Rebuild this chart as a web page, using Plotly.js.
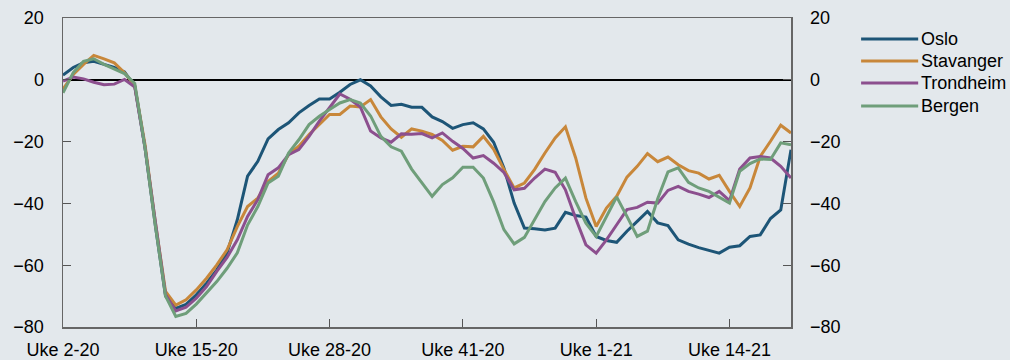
<!DOCTYPE html>
<html>
<head>
<meta charset="utf-8">
<script src="https://cdn.plot.ly/plotly-3.0.1.min.js"></script>
<style>
  html, body { margin: 0; padding: 0; background: #e3e8ec; }
  #chart { width: 1010px; height: 360px; }
</style>
</head>
<body>
<div id="chart"></div>
<script>
// Week categories: Uke 2-20 ... Uke 53-20, Uke 1-21 ... Uke 20-21
const weeks = [];
for (let w = 2; w <= 53; w++) weeks.push('Uke ' + w + '-20');
for (let w = 1; w <= 20; w++) weeks.push('Uke ' + w + '-21');

const tickLabels = ['Uke 2-20', 'Uke 15-20', 'Uke 28-20', 'Uke 41-20', 'Uke 1-21', 'Uke 14-21'];
const yTicks = [20, 0, -20, -40, -60, -80];

const oslo = [1.5, 4, 5.5, 6, 5, 4, 2.5, -2, -22, -47,
  -70, -74, -72.7, -69.6, -65.8, -61.5, -56, -45.3, -31.2, -26.4,
  -19.1, -16.1, -13.9, -10.7, -8.3, -6.2, -6.2, -4, -1.5, 0,
  -2, -5.5, -8.3, -7.9, -8.9, -8.9, -12, -13.5, -15.7, -14.5,
  -13.9, -15.9, -20.2, -28.5, -39.9, -48, -48.2, -48.6, -48, -42.9,
  -43.9, -44.4, -50.7, -52, -52.6, -49, -45.8, -42.6, -46.3, -47.2,
  -51.8, -53.2, -54.3, -55.2, -56.1, -54.2, -53.7, -50.7, -50.2, -44.9,
  -42.1, -22.6];

const stavanger = [-3, 1.7, 5, 7.9, 6.8, 5.5, 2.3, -2, -21, -46,
  -68.5, -72.9, -71.2, -68, -64.2, -59.9, -55, -47.5, -41, -38.3,
  -32.9, -30.2, -24.2, -21.5, -17.7, -14.5, -11.2, -11.2, -8.5, -8.8,
  -6.4, -12, -15.9, -18.6, -15.9, -16.6, -17.7, -19.6, -22.8, -21.5,
  -21.7, -18.3, -22.5, -29, -35, -33.4, -29, -23.7, -18.8, -15.2,
  -25.3, -38.3, -47.5, -41.5, -37.7, -31.5, -28, -23.9, -26.5, -25,
  -27.5, -29.4, -30.2, -32.1, -30.9, -36.1, -41, -35, -24.8, -19.9,
  -14.7, -17.2];

const trondheim = [-0.4, 0.9, 0.3, -0.8, -1.6, -1.4, 0.1, -2.3, -22, -46,
  -69.5, -74.8, -73.6, -70.7, -66.9, -62, -57.5, -51.8, -44.2, -38.8,
  -30.7, -28.5, -24.2, -22.6, -18.3, -13.4, -9, -4.6, -6.3, -8.8,
  -16.6, -18.8, -20.2, -17.5, -17.6, -17.4, -18.8, -17.2, -19.9, -22.2,
  -25.3, -24.5, -27, -30, -35.6, -35.1, -31.8, -28.9, -29.9, -35.6,
  -44.9, -53.4, -56.1, -51.8, -46.9, -42, -41.3, -39.6, -39.9, -35.8,
  -34.5, -36.1, -37, -38.1, -36.1, -39.1, -28.9, -25.3, -24.8, -25.3,
  -28, -31.8];

const bergen = [-4.2, 2.3, 6, 6.8, 5, 3.6, 2, -1.2, -22, -47,
  -70, -76.6, -75.6, -72.6, -69.1, -65.3, -61, -56, -47, -41,
  -33.4, -31.2, -23.7, -19.4, -14.5, -11.8, -9.6, -7.5, -6.4, -7.5,
  -11.7, -18.3, -21.7, -23.1, -28.9, -33.2, -37.7, -33.9, -31.7, -28.3,
  -28.3, -31.8, -39.5, -48.5, -53.1, -51, -45.3, -39.4, -35, -31.8,
  -39.4, -46.4, -50.7, -44.2, -37.9, -44.2, -50.7, -49, -38.5, -29.8,
  -28.5, -33.2, -35, -36.1, -37.9, -39.9, -29.6, -27.1, -25.6, -25.8,
  -20.4, -21];

const seriesNames = ['Oslo', 'Stavanger', 'Trondheim', 'Bergen'];
const seriesData = [oslo, stavanger, trondheim, bergen];
const colors = ['#1d5577', '#c8873a', '#8c4f8e', '#6f9e7a'];

const traces = seriesData.map((ys, k) => ({
  type: 'scatter', mode: 'lines', name: seriesNames[k],
  x: weeks, y: ys,
  line: { color: colors[k], width: 3 },
  hoverinfo: 'x+y+name'
}));
// invisible trace to activate right-hand axis
traces.push({
  type: 'scatter', mode: 'lines', x: weeks, y: oslo, yaxis: 'y2',
  line: { color: 'rgba(0,0,0,0)', width: 0 }, showlegend: false, hoverinfo: 'skip'
});

const font = { family: 'Liberation Sans, Arial, sans-serif', size: 18, color: '#000' };

// Manual legend (paper coordinates; plot area is 727 x 309 px starting at (63, 18))
const PW = 727, PH = 309, PL = 63, PT = 18;
const px = v => (v - PL) / PW;
const py = v => (PT + PH - v) / PH;
const legendRows = [39, 61, 83, 106];
const shapes = seriesNames.map((n, k) => ({
  type: 'line', xref: 'paper', yref: 'paper',
  x0: px(860), x1: px(917), y0: py(legendRows[k]), y1: py(legendRows[k]),
  line: { color: colors[k], width: 3 }
}));
const annotations = seriesNames.map((n, k) => ({
  xref: 'paper', yref: 'paper', x: px(918), y: py(legendRows[k]),
  xanchor: 'left', yanchor: 'middle', text: n, showarrow: false,
  font: font
}));

const fmt = v => v < 0 ? '\u2212' + Math.abs(v) : String(v);

const layout = {
  width: 1010, height: 360,
  paper_bgcolor: '#e3e8ec', plot_bgcolor: '#e3e8ec',
  margin: { l: 63, r: 219, t: 18, b: 33 },
  font: font,
  showlegend: false,
  shapes: shapes,
  annotations: annotations,
  xaxis: {
    type: 'category', range: [0, 71],
    tickmode: 'array', tickvals: tickLabels, ticktext: tickLabels,
    ticks: 'inside', ticklen: 8, tickcolor: '#555', tickwidth: 1,
    showline: true, linecolor: '#666', linewidth: 1.5, mirror: true,
    showgrid: false, zeroline: false,
    ticklabelstandoff: 6,
    tickfont: font
  },
  yaxis: {
    range: [-80, 20], tickmode: 'array', tickvals: yTicks,
    ticktext: yTicks.map(fmt),
    ticks: 'inside', ticklen: 8, tickcolor: '#555', tickwidth: 1,
    showline: true, linecolor: '#666', linewidth: 1.5,
    showgrid: false, zeroline: true, zerolinecolor: '#000', zerolinewidth: 1.5,
    ticklabelstandoff: 14,
    tickfont: font
  },
  yaxis2: {
    overlaying: 'y', side: 'right', anchor: 'x',
    range: [-80, 20], tickmode: 'array', tickvals: yTicks,
    ticktext: yTicks.map(fmt),
    ticks: 'inside', ticklen: 8, tickcolor: '#555', tickwidth: 1,
    showline: true, linecolor: '#666', linewidth: 1.5,
    showgrid: false, zeroline: false,
    ticklabelstandoff: 14,
    tickfont: font
  }
};

Plotly.newPlot('chart', traces, layout, { displayModeBar: false, staticPlot: true });
</script>
</body>
</html>
